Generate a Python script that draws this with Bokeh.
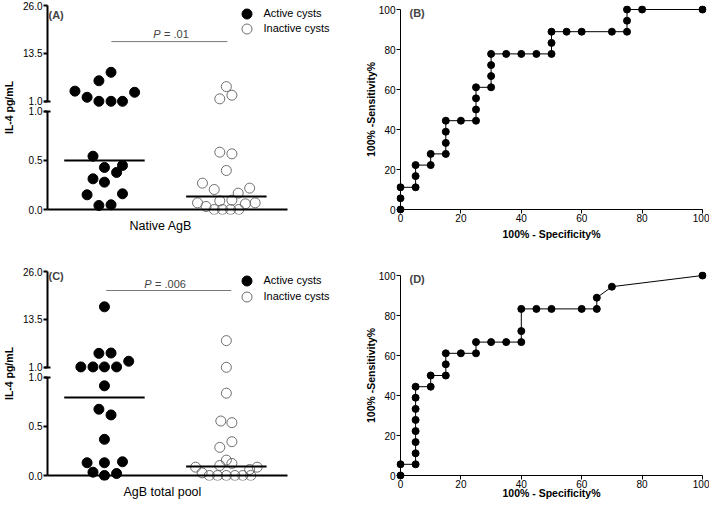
import numpy as np
from bokeh.plotting import figure
from bokeh.models import (Range1d, LinearAxis, FixedTicker, NumeralTickFormatter,
                          Legend, LegendItem, Label, Title)
from bokeh.layouts import row, column
from bokeh.embed import file_html
from bokeh.resources import INLINE

FONT = "Liberation Sans"

# ---------------- data ----------------
group_names = ["Active cysts", "Inactive cysts"]
group_pos = [1, 3]

# Panel A: Native AgB, IL-4 pg/mL
a_active = [8.6, 6.4, 3.7, 3.4, 2.1, 1.05, 1.05, 1.05, 0.544, 0.429, 0.449, 0.378,
            0.313, 0.279, 0.150, 0.160, 0.041, 0.048]
a_active_jit = [0.108, -0.091, -0.484, 0.495, -0.285, -0.091, 0.108, 0.296, -0.188, 0.0,
                0.296, 0.199, -0.188, 0.0, -0.285, 0.296, -0.091, 0.108]
a_inactive = [4.88, 1.69, 2.64, 0.585, 0.568, 0.398, 0.269, 0.204, 0.218, 0.167, 0.068,
              0.088, 0.095, 0.068, 0.058, 0.031, 0.0, 0.0, 0.0, 0.0]
a_inactive_jit = [0.0, -0.108, 0.091, -0.108, 0.091, 0.0, -0.392, -0.199, 0.382, 0.194,
                  -0.473, -0.108, 0.091, 0.473, 0.312, -0.333, -0.199, -0.065, 0.070, 0.204]
a_medians = [0.50, 0.133]
a_p_text = "= .01"

# Panel C: AgB total pool, IL-4 pg/mL
c_active = [16.8, 4.68, 4.77, 2.63, 1.15, 1.15, 1.15, 1.15, 0.915, 0.676, 0.618, 0.369,
            0.130, 0.130, 0.140, 0.034, 0.020, 0.0]
c_active_jit = [0.0, -0.091, 0.108, 0.398, -0.387, -0.188, 0.0, 0.199, 0.0, -0.091, 0.108,
                0.0, -0.285, 0.0, 0.296, -0.188, 0.199, 0.0]
c_inactive = [8.0, 1.05, 0.840, 0.556, 0.539, 0.345, 0.287, 0.157, 0.123, 0.102, 0.085,
              0.085, 0.061, 0.027, 0.0, 0.0, 0.0, 0.0, 0.0, 0.0]
c_inactive_jit = [0.0, 0.0, 0.0, -0.091, 0.091, 0.091, -0.108, 0.0, 0.091, -0.108, -0.505,
                  0.505, 0.382, -0.398, -0.280, -0.145, 0.0, 0.140, 0.269, 0.40]
c_medians = [0.795, 0.092]
c_p_text = "= .006"

# broken y axis ticks
lower_ticks = [0.0, 0.5, 1.0]
upper_ticks = [1.0, 13.5, 26.0]

# ROC (B): native AgB
b_fpr = [0, 0, 0, 5, 5, 5, 10, 10, 15, 15, 15, 15, 20, 25, 25, 25, 25, 30, 30, 30, 30,
         35, 40, 45, 50, 50, 50, 55, 60, 70, 75, 75, 75, 80, 100]
b_tpr = [0, 5.6, 11.1, 11.1, 16.7, 22.2, 22.2, 27.8, 27.8, 33.3, 38.9, 44.4, 44.4, 44.4,
         50, 55.6, 61.1, 61.1, 66.7, 72.2, 77.8, 77.8, 77.8, 77.8, 77.8, 83.3, 88.9, 88.9,
         88.9, 88.9, 88.9, 94.4, 100, 100, 100]
# ROC (D): AgB total pool
d_fpr = [0, 0, 5, 5, 5, 5, 5, 5, 5, 5, 10, 10, 15, 15, 15, 20, 25, 25, 30, 35, 40, 40, 40,
         45, 50, 60, 65, 65, 70, 100]
d_tpr = [0, 5.6, 5.6, 11.1, 16.7, 22.2, 27.8, 33.3, 38.9, 44.4, 44.4, 50, 50, 55.6, 61.1,
         61.1, 61.1, 66.7, 66.7, 66.7, 66.7, 72.2, 83.3, 83.3, 83.3, 83.3, 83.3, 88.9, 94.4, 100]
roc_ticks = [0, 20, 40, 60, 80, 100]


def tick_axis(text, ticks, standoff, tick_in, lw, size, bold, bounds="auto",
              overrides=None, fmt=None, label_standoff=1, **kw):
    """Axis on the frame edge: tick marks pointing in, tick labels and title; no line."""
    ax = LinearAxis(ticker=FixedTicker(ticks=ticks), axis_line_color=None,
                    major_tick_line_color="black", major_tick_line_width=lw,
                    minor_tick_line_color=None,
                    major_tick_out=0, major_tick_in=tick_in, minor_tick_out=0, minor_tick_in=0,
                    major_label_standoff=label_standoff,
                    major_label_text_font=FONT, major_label_text_font_size="10px",
                    major_label_text_color="black",
                    axis_label=text, axis_label_standoff=standoff,
                    axis_label_text_font=FONT, axis_label_text_font_size=size,
                    axis_label_text_font_style="bold" if bold else "normal",
                    axis_label_text_color="black", bounds=bounds, **kw)
    if overrides:
        ax.major_label_overrides = overrides
    if fmt is not None:
        ax.formatter = fmt
    return ax


def line_axis(lw, caps=None, **kw):
    """Axis line drawn at a fixed place inside the frame, with optional break caps."""
    ax = LinearAxis(ticker=FixedTicker(ticks=[], minor_ticks=caps or []), **kw)
    ax.axis_line_width = lw
    ax.axis_line_color = "black"
    ax.major_tick_line_color = None
    ax.major_tick_out = 0
    ax.major_tick_in = 0
    ax.major_label_standoff = 0
    ax.minor_tick_line_width = lw
    ax.minor_tick_line_color = "black"
    ax.minor_tick_in = 3
    ax.minor_tick_out = 3
    return ax


def dot_panel(tag, xlabel, xlabel_offset, act, act_jit, inact, inact_jit, medians, p_text,
              height, pbar, p_xy, tag_y, legend_rows):
    xr = Range1d(0.0, 4.807)
    axis_x = 0.0645          # x where the y axis stands
    low = Range1d(-0.05102, 2.13265)
    up = Range1d(-28.427, 27.302)
    p = figure(width=336, height=height, output_backend="svg", toolbar_location=None,
               x_range=xr, y_range=low, x_axis_type=None, y_axis_type=None,
               min_border_left=38, min_border_right=0, min_border_top=0,
               min_border_bottom=height - 214)
    p.extra_y_ranges = {"upper": up}
    p.outline_line_color = None

    # broken y axis: two line segments with caps at the break
    p.add_layout(line_axis(2, [1.0], bounds=(0, 1), fixed_location=axis_x), "left")
    p.add_layout(line_axis(2, [1.0], bounds=(1, 26), fixed_location=axis_x,
                           y_range_name="upper"), "left")
    # ticks and labels of both segments; upper values placed through the two ranges
    to_low = lambda v: round(low.start + (v - up.start) * (low.end - low.start) /
                             (up.end - up.start), 6)
    pos = [float(t) for t in lower_ticks] + [to_low(t) for t in upper_ticks]
    labs = ["%.1f" % t for t in lower_ticks] + ["%.1f" % t for t in upper_ticks]
    p.add_layout(tick_axis("IL-4 pg/mL", pos, 5, 4, 2, "10.5px", True,
                           bounds=(0, max(pos)), overrides=dict(zip(pos, labs)),
                           fmt=NumeralTickFormatter(format="0.0")), "left")

    # x axis line at zero and its title
    p.add_layout(line_axis(2, bounds=(axis_x, 4.0), fixed_location=0), "below")
    p.add_layout(Title(text=xlabel, align="left", offset=xlabel_offset, standoff=4,
                       text_font=FONT, text_font_size="12.5px", text_font_style="normal",
                       text_color="black"), "below")

    renderers = []
    styles = [dict(fill_color="black", line_color="black"),
              dict(fill_color=None, line_color="#6e6e6e", line_width=1)]
    for vals, jit, gp, st in zip([act, inact], [act_jit, inact_jit], group_pos, styles):
        v = np.asarray(vals, dtype=float)
        x = gp + np.asarray(jit, dtype=float)
        upm = v > 1.0
        r_low = p.scatter(x[~upm], v[~upm], size=10, **st)
        p.scatter(x[upm], v[upm], size=10, y_range_name="upper", **st)
        renderers.append(r_low)

    for gp, med in zip(group_pos, medians):
        p.segment(x0=[gp - 0.66], x1=[gp + 0.66], y0=[med], y1=[med],
                  line_color="black", line_width=2)

    p.segment(x0=[pbar[0]], x1=[pbar[1]], y0=[pbar[2]], y1=[pbar[2]],
              y_range_name="upper", line_color="#777777", line_width=1)

    p.add_layout(Label(x=p_xy[0], y=p_xy[1], x_units="screen", y_units="screen",
                       text="P", text_font=FONT, text_font_style="italic",
                       text_font_size="11px", text_align="right", text_baseline="middle"))
    p.add_layout(Label(x=p_xy[0] + 3.5, y=p_xy[1], x_units="screen", y_units="screen",
                       text=p_text, text_font=FONT, text_font_size="11px",
                       text_align="left", text_baseline="middle"))
    p.add_layout(Label(x=5, y=214 - tag_y, x_units="screen", y_units="screen", text=tag,
                       text_font=FONT, text_font_style="bold", text_font_size="11px",
                       text_align="left", text_baseline="middle"))

    # one legend per entry so that the rows can sit closer than the marker box
    for name, r, ry in zip(group_names, renderers, legend_rows):
        lg = Legend(items=[LegendItem(label=name, renderers=[r])],
                    location=(190.5, 214 - ry - 12.5), glyph_width=25, glyph_height=25,
                    label_height=25, spacing=0, label_standoff=5, padding=0, margin=0,
                    border_line_color=None, background_fill_alpha=0,
                    label_text_font=FONT, label_text_font_size="11px",
                    label_text_color="black")
        p.add_layout(lg)
    return p


def roc_panel(tag, fpr, tpr, height, xlabel_standoff):
    p = figure(width=373, height=height, output_backend="svg", toolbar_location=None,
               x_range=Range1d(-1.3245, 101.3245), y_range=Range1d(-2.0, 102.0),
               x_axis_type=None, y_axis_type=None,
               min_border_left=60, min_border_right=3, min_border_top=5,
               min_border_bottom=height - 213)
    p.outline_line_color = None

    p.add_layout(line_axis(1, bounds=(0, 100), fixed_location=0), "below")
    p.add_layout(line_axis(1, bounds=(0, 100), fixed_location=0), "left")
    p.add_layout(tick_axis("100% - Specificity%", roc_ticks, xlabel_standoff, 4, 1, "10.5px",
                           True, bounds=(0, 100), label_standoff=0), "below")
    p.add_layout(tick_axis("100% -Sensitivity%", roc_ticks, -1, 4, 1, "10.5px", True,
                           bounds=(0, 100)), "left")

    p.line(fpr, tpr, line_color="black", line_width=1)
    p.scatter(fpr, tpr, size=7, fill_color="black", line_color="black")
    p.add_layout(Label(x=13, y=201, x_units="screen", y_units="screen", text=tag,
                       text_font=FONT, text_font_style="bold", text_font_size="11px",
                       text_align="left", text_baseline="middle"))
    return p


pa = dot_panel("(A)", "Native AgB", 86, a_active, a_active_jit, a_inactive, a_inactive_jit,
               a_medians, a_p_text, 266, (1.113, 3.016, 16.6), (117, 181), 14, (13, 28))
pc = dot_panel("(C)", "AgB total pool", 80, c_active, c_active_jit, c_inactive,
               c_inactive_jit, c_medians, c_p_text, 242, (1.03, 3.08, 21.05), (108, 197),
               9, (14, 30))
pb = roc_panel("(B)", b_fpr, b_tpr, 266, 3)
pd = roc_panel("(D)", d_fpr, d_tpr, 242, -4)

layout = row(column(pa, pc), column(pb, pd))
open("out.html", "w").write(file_html(layout, INLINE))
